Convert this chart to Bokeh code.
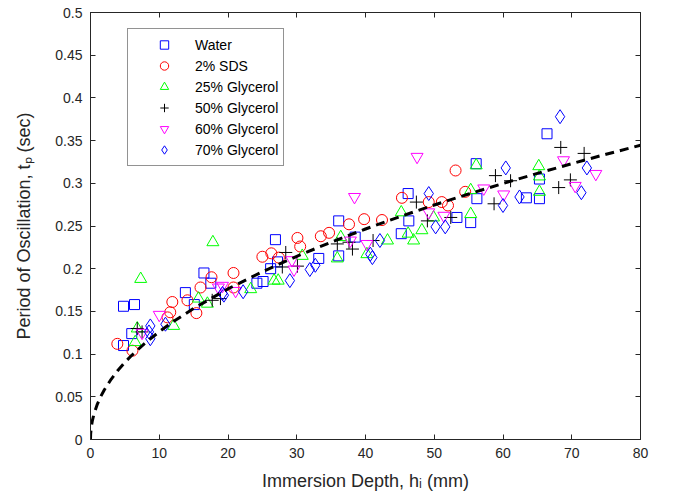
from bokeh.plotting import figure
from bokeh.models import (Range1d, FixedTicker, LinearAxis, CustomJSTickFormatter,
                          Legend, LegendItem)
from bokeh.embed import file_html
from bokeh.resources import INLINE

# ---------------- data ----------------
water_h = [4.8, 6.4, 4.8, 6.0, 13.8, 15.1, 16.5, 17.5, 24.2, 25.1, 26.2, 26.9, 27.2, 33.2,
           36.1, 36.1, 38.5, 45.2, 46.2, 46.3, 53.3, 55.3, 56.1, 56.2, 63.4, 65.3, 65.3, 66.4]
water_t = [0.156, 0.158, 0.110, 0.124, 0.172, 0.158, 0.195, 0.183, 0.183, 0.185, 0.200, 0.234,
           0.208, 0.212, 0.256, 0.215, 0.237, 0.241, 0.288, 0.256, 0.260, 0.254, 0.323, 0.282,
           0.283, 0.305, 0.282, 0.358]

sds_h = [3.9, 6.1, 11.2, 11.6, 11.9, 14.1, 15.4, 16.0, 17.6, 20.8, 20.8, 25.0, 26.3, 27.4,
         30.1, 30.5, 33.5, 34.7, 37.6, 39.8, 42.4, 45.3, 49.2, 51.1, 52.0, 53.1, 54.5]
sds_t = [0.112, 0.104, 0.143, 0.149, 0.161, 0.163, 0.148, 0.178, 0.190, 0.195, 0.178, 0.214,
         0.218, 0.213, 0.236, 0.226, 0.238, 0.242, 0.252, 0.258, 0.257, 0.283, 0.278, 0.278,
         0.274, 0.315, 0.290]

g25_h = [7.3, 6.5, 6.8, 12.1, 15.7, 17.0, 17.8, 23.3, 26.7, 27.3, 30.8, 35.9, 36.4, 40.2,
         43.2, 45.2, 46.2, 47.0, 48.2, 49.9, 55.3, 55.3, 56.1, 65.2, 65.3, 65.3]
g25_t = [0.188, 0.114, 0.130, 0.133, 0.165, 0.159, 0.231, 0.176, 0.186, 0.186, 0.215, 0.212,
         0.237, 0.217, 0.233, 0.266, 0.241, 0.233, 0.245, 0.260, 0.292, 0.264, 0.321, 0.320,
         0.308, 0.290]

g50_h = [6.8, 7.5, 17.7, 18.9, 27.9, 28.4, 30.1, 35.9, 37.6, 38.1, 41.1, 47.4, 49.0, 52.4,
         58.7, 58.9, 61.1, 68.1, 68.4, 69.8, 71.8]
g50_t = [0.130, 0.126, 0.163, 0.165, 0.202, 0.219, 0.203, 0.229, 0.231, 0.223, 0.233, 0.278,
         0.256, 0.260, 0.276, 0.309, 0.303, 0.295, 0.342, 0.304, 0.335]

g60_h = [7.5, 10.0, 18.6, 19.2, 21.1, 29.3, 29.6, 37.8, 38.4, 40.2, 47.5, 49.2, 51.4, 57.2,
         60.1, 68.8, 70.5, 73.5]
g60_t = [0.125, 0.146, 0.178, 0.180, 0.174, 0.210, 0.199, 0.233, 0.284, 0.229, 0.331, 0.266,
         0.262, 0.294, 0.287, 0.327, 0.297, 0.311]

g70_h = [8.5, 8.7, 8.7, 10.9, 19.2, 19.4, 22.2, 29.0, 31.9, 32.7, 40.7, 41.0, 42.1, 49.2,
         50.2, 51.6, 60.0, 60.4, 62.4, 68.3, 71.4, 72.2]
g70_t = [0.126, 0.133, 0.118, 0.135, 0.171, 0.169, 0.173, 0.186, 0.199, 0.204, 0.217, 0.213,
         0.233, 0.288, 0.249, 0.249, 0.274, 0.318, 0.284, 0.378, 0.289, 0.318]

# dashed fit curve
fit_h = [0, 0.02, 0.1, 0.25, 0.5, 1, 1.5, 2, 3, 4, 5, 6, 8, 10, 12, 15, 20, 25, 30, 35, 40,
         45, 50, 55, 60, 65, 70, 75, 80]
fit_t = [0, 0.0063, 0.0137, 0.0212, 0.0297, 0.0415, 0.0505, 0.058, 0.0705, 0.0811, 0.0903,
         0.0986, 0.1133, 0.1262, 0.1378, 0.1535, 0.1764, 0.1965, 0.2145, 0.2311, 0.2465,
         0.261, 0.2746, 0.2875, 0.2998, 0.3116, 0.323, 0.334, 0.3445]

x_ticks = [0, 10, 20, 30, 40, 50, 60, 70, 80]
y_ticks = [0, 0.05, 0.1, 0.15, 0.2, 0.25, 0.3, 0.35, 0.4, 0.45, 0.5]

series = [
    ("Water", water_h, water_t, "square", "#0000ff", 10),
    ("2% SDS", sds_h, sds_t, "circle", "#ff0000", 11),
    ("25% Glycerol", g25_h, g25_t, "triangle", "#00ff00", 12),
    ("50% Glycerol", g50_h, g50_t, "cross", "#000000", 13),
    ("60% Glycerol", g60_h, g60_t, "inverted_triangle", "#ff00ff", 12),
    ("70% Glycerol", g70_h, g70_t, "diamond", "#0000ff", 14),
]

FONT = "Liberation Sans"
AX = "#262626"

p = figure(width=674, height=500, output_backend="svg", toolbar_location=None,
           x_range=Range1d(0, 80), y_range=Range1d(0, 0.5),
           min_border_left=90, min_border_right=34, min_border_top=12, min_border_bottom=61,
           x_axis_label="Immersion Depth, h\u1d62 (mm)",
           y_axis_label="Period of Oscillation, t\u209a (sec)")
p.xgrid.visible = False
p.ygrid.visible = False
p.outline_line_color = AX
p.outline_line_width = 1
p.background_fill_color = "white"
p.border_fill_color = "white"

items = []
for name, hs, ts, mk, col, sz in series:
    r = p.scatter(hs, ts, marker=mk, size=sz, line_color=col, fill_color=None, line_width=1)
    items.append(LegendItem(label=name, renderers=[r]))

p.line(fit_h, fit_t, line_color="black", line_width=3, line_dash="9 6")

fmt = CustomJSTickFormatter(code="""
var s = tick.toFixed(2);
s = s.replace(/0+$/, '').replace(/\\.$/, '');
return s;
""")
blank = CustomJSTickFormatter(code="return '';")

for ax in (p.xaxis[0], p.yaxis[0]):
    ax.major_tick_in = 5
    ax.major_tick_out = 0
    ax.minor_tick_in = 0
    ax.minor_tick_out = 0
    ax.axis_line_color = AX
    ax.major_tick_line_color = AX
    ax.major_label_text_color = AX
    ax.major_label_text_font = FONT
    ax.major_label_text_font_size = "14px"
    ax.axis_label_text_font = FONT
    ax.axis_label_text_font_size = "18px"
    ax.axis_label_text_font_style = "normal"
    ax.axis_label_text_color = AX
    ax.major_label_standoff = 8

p.xaxis[0].ticker = FixedTicker(ticks=x_ticks)
p.yaxis[0].ticker = FixedTicker(ticks=y_ticks)
p.yaxis[0].formatter = fmt
p.xaxis[0].axis_label_standoff = 10
p.yaxis[0].axis_label_standoff = 18

top = LinearAxis(ticker=FixedTicker(ticks=x_ticks), formatter=blank,
                 major_tick_in=5, major_tick_out=0, minor_tick_in=0, minor_tick_out=0,
                 axis_line_color=AX, major_tick_line_color=AX, major_label_standoff=0)
right = LinearAxis(ticker=FixedTicker(ticks=y_ticks), formatter=blank,
                   major_tick_in=5, major_tick_out=0, minor_tick_in=0, minor_tick_out=0,
                   axis_line_color=AX, major_tick_line_color=AX, major_label_standoff=0)
p.add_layout(top, "above")
p.add_layout(right, "right")

legend = Legend(items=items, location=(37, 273), orientation="vertical",
                padding=5, spacing=0, margin=0,
                glyph_width=62, glyph_height=21, label_height=21, label_standoff=0,
                label_text_font=FONT, label_text_font_size="14px", label_text_color="black",
                border_line_color=AX, border_line_width=1,
                background_fill_color="white", background_fill_alpha=1)
p.add_layout(legend, "center")

open("out.html", "w").write(file_html(p, INLINE))
